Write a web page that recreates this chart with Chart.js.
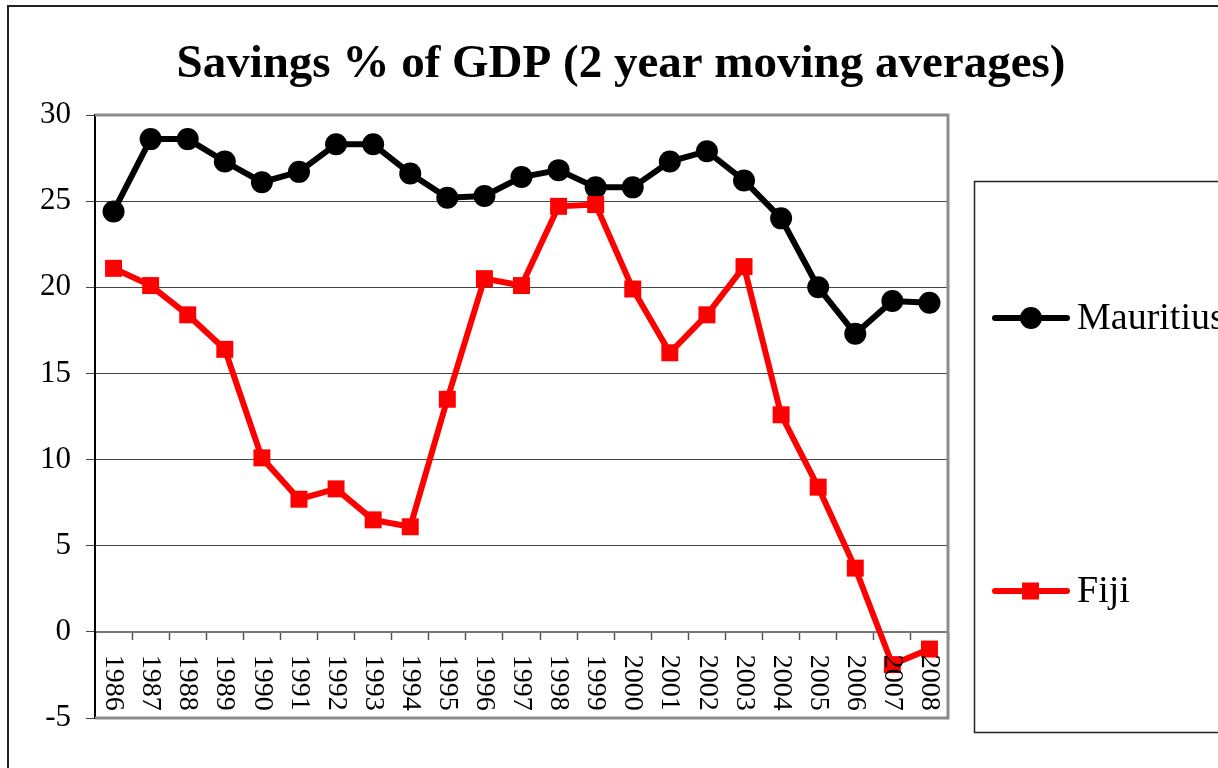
<!DOCTYPE html>
<html>
<head>
<meta charset="utf-8">
<script src="https://cdn.jsdelivr.net/npm/chart.js@4.4.0/dist/chart.umd.min.js"></script>
<style>
  html, body { margin: 0; padding: 0; background: #fff; }
  #wrap { width: 1218px; height: 768px; position: relative; }
</style>
</head>
<body>
<div id="wrap"><canvas id="c" width="1218" height="768"></canvas></div>
<script>
// ---- Data ----
const chartTitle = 'Savings % of GDP (2 year moving averages)';
const categories = ['1986','1987','1988','1989','1990','1991','1992','1993','1994','1995','1996','1997','1998','1999','2000','2001','2002','2003','2004','2005','2006','2007','2008'];
const mauritiusLabel = 'Mauritius';
const mauritius = [24.4, 28.6, 28.6, 27.3, 26.1, 26.7, 28.3, 28.3, 26.6, 25.2, 25.3, 26.4, 26.8, 25.8, 25.8, 27.3, 27.9, 26.2, 24.0, 20.0, 17.3, 19.2, 19.1];
const fijiLabel = 'Fiji';
const fiji = [21.1, 20.1, 18.4, 16.4, 10.1, 7.7, 8.3, 6.5, 6.1, 13.5, 20.5, 20.1, 24.7, 24.8, 19.9, 16.2, 18.4, 21.2, 12.6, 8.4, 3.7, -1.9, -1.0];
const yMin = -5, yMax = 30, yStep = 5;

const SERIF = '"Liberation Serif", "Times New Roman", serif';

// Outer frame, plot frame, rotated category labels, custom legend
const decorPlugin = {
  id: 'decor',
  afterLayout(chart) {
    const t = chart.titleBlock;
    if (t) { t.left = 24; t.right = 1218; t.width = 1194; }
  },
  beforeDraw(chart) {
    const ctx = chart.ctx;
    ctx.save();
    ctx.fillStyle = '#fff';
    ctx.fillRect(0, 0, chart.width, chart.height);
    ctx.strokeStyle = '#222';
    ctx.lineWidth = 2;
    ctx.strokeRect(8, 6, 1400, 1000);
    ctx.restore();
  },
  beforeDatasetsDraw(chart) {
    const ctx = chart.ctx, a = chart.chartArea;
    ctx.save();
    ctx.strokeStyle = '#8c8c8c';
    ctx.lineWidth = 3;
    ctx.beginPath();
    ctx.moveTo(a.left, a.top); ctx.lineTo(a.right, a.top);
    ctx.lineTo(a.right, a.bottom); ctx.lineTo(a.left, a.bottom);
    ctx.stroke();
    ctx.restore();
  },
  afterDraw(chart) {
    const ctx = chart.ctx;
    const xs = chart.scales.x, ys = chart.scales.y;
    const y0 = ys.getPixelForValue(0);
    ctx.save();
    // rotated category labels (reading top to bottom)
    ctx.fillStyle = '#000';
    ctx.font = '28px ' + SERIF;
    ctx.textAlign = 'left';
    ctx.textBaseline = 'middle';
    categories.forEach((lab, i) => {
      const x = xs.getPixelForValue(i);
      ctx.save();
      ctx.translate(x, y0 + 23);
      ctx.rotate(Math.PI / 2);
      ctx.fillText(lab, 0, 0);
      ctx.restore();
    });
    // legend box
    ctx.strokeStyle = '#222';
    ctx.lineWidth = 1.5;
    ctx.strokeRect(974.5, 181.5, 500, 551);
    const items = [{ds: chart.data.datasets[0], y: 318}, {ds: chart.data.datasets[1], y: 591}];
    items.forEach(it => {
      const ds = it.ds;
      ctx.strokeStyle = ds.borderColor;
      ctx.lineWidth = 6;
      ctx.lineCap = 'round';
      ctx.beginPath();
      ctx.moveTo(995, it.y); ctx.lineTo(1067, it.y);
      ctx.stroke();
      ctx.fillStyle = ds.pointBackgroundColor;
      if (ds.pointStyle === 'rect') {
        ctx.fillRect(1022, it.y - 8.5, 17, 17);
      } else {
        ctx.beginPath();
        ctx.arc(1031, it.y, 11, 0, Math.PI * 2);
        ctx.fill();
      }
      ctx.fillStyle = '#000';
      ctx.font = '38px ' + SERIF;
      ctx.textAlign = 'left';
      ctx.textBaseline = 'middle';
      ctx.fillText(ds.label, 1077, it.y + 1);
    });
    ctx.restore();
  }
};

new Chart(document.getElementById('c'), {
  type: 'line',
  data: {
    labels: categories,
    datasets: [
      {
        label: mauritiusLabel,
        data: mauritius,
        borderColor: '#000000',
        backgroundColor: '#000000',
        pointBackgroundColor: '#000000',
        pointBorderColor: '#000000',
        pointStyle: 'circle',
        pointRadius: 11,
        pointBorderWidth: 0,
        borderWidth: 6,
        tension: 0,
        order: 1
      },
      {
        label: fijiLabel,
        data: fiji,
        borderColor: '#ff0000',
        backgroundColor: '#ff0000',
        pointBackgroundColor: '#ff0000',
        pointBorderColor: '#ff0000',
        pointStyle: 'rect',
        pointRadius: 12,
        pointBorderWidth: 0,
        borderWidth: 6,
        tension: 0,
        order: 0
      }
    ]
  },
  options: {
    responsive: false,
    animation: false,
    devicePixelRatio: 1,
    layout: { padding: { left: 0, right: 270, top: 0, bottom: 50 } },
    plugins: {
      legend: { display: false },
      tooltip: { enabled: false },
      title: {
        display: true,
        text: chartTitle,
        color: '#000',
        font: { family: SERIF, size: 47, weight: 'bold', lineHeight: 1.2 },
        padding: { top: 37, bottom: 21.6 }
      }
    },
    scales: {
      x: {
        type: 'category',
        position: { y: 0 },
        offset: true,
        grid: {
          offset: true,
          drawOnChartArea: false,
          drawTicks: true,
          tickLength: 7,
          tickColor: '#555',
          tickWidth: 1.5
        },
        border: { display: true, color: '#777', width: 2 },
        ticks: { display: false }
      },
      y: {
        min: yMin,
        max: yMax,
        afterFit(scale) { scale.width = 95; },
        ticks: {
          stepSize: yStep,
          color: '#000',
          padding: 15,
          font: { family: SERIF, size: 31 }
        },
        grid: {
          color: (c) => {
            const v = c.tick ? c.tick.value : null;
            return (v === yMax || v === yMin || v === 0) ? 'rgba(0,0,0,0)' : '#444';
          },
          lineWidth: 1,
          drawTicks: true,
          tickLength: 9,
          tickColor: '#444'
        },
        border: { display: true, color: '#000', width: 2 }
      }
    }
  },
  plugins: [decorPlugin]
});
</script>
</body>
</html>
